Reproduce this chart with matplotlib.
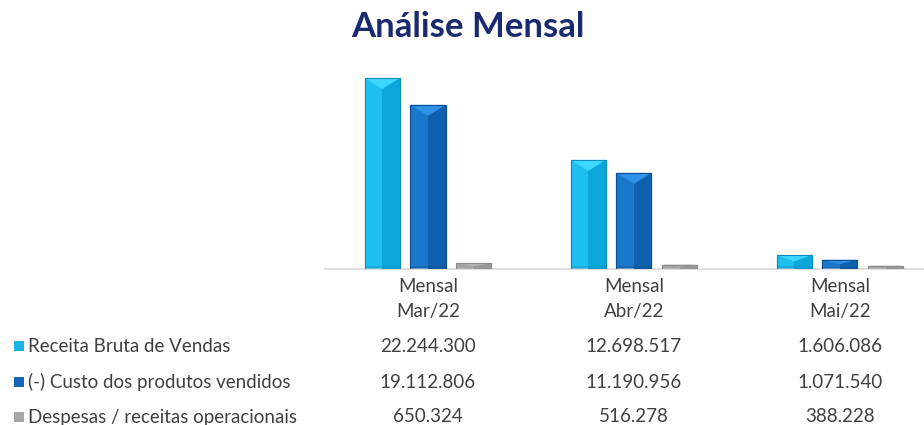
import matplotlib
matplotlib.use("Agg")
import matplotlib.pyplot as plt
from matplotlib.patches import Polygon
import numpy as np

categories = ["Mensal\nMar/22", "Mensal\nAbr/22", "Mensal\nMai/22"]
series_names = ["Receita Bruta de Vendas", "(-) Custo dos produtos vendidos",
                "Despesas / receitas operacionais"]
receita = [22244300, 12698517, 1606086]
custo = [19112806, 11190956, 1071540]
despesas = [650324, 516278, 388228]
value_labels = [["22.244.300", "12.698.517", "1.606.086"],
                ["19.112.806", "11.190.956", "1.071.540"],
                ["650.324", "516.278", "388.228"]]

series = [receita, custo, despesas]
# (main, right half, top bevel, edge)
styles = [("#1DC0F0", "#0DA6DA", "#3DD8FF", "#0B8DBE"),
          ("#1A78CC", "#0F60AE", "#2E92E8", "#0B4E92"),
          ("#A6A6A6", "#999999", "#B8B8B8", "#8C8C8C")]
swatch = ["#1AB4E6", "#1565B8", "#A6A6A6"]

font = ["Lato", "DejaVu Sans"]
plt.rcParams['font.family'] = font

fig = plt.figure(figsize=(9.24, 4.25), dpi=100)
W, H = 924, 425
ax_left, ax_right, ax_top, ax_bottom = 325, 924, 60, 269
ax = fig.add_axes([ax_left / W, 1 - ax_bottom / H, (ax_right - ax_left) / W,
                   (ax_bottom - ax_top) / H])

x = np.arange(len(categories))
bw = 0.17
offs = [-0.222, 0.0, 0.222]
ymax = 24.34e6
ax.set_xlim(-0.5, 2.408)
ax.set_ylim(0, ymax)

px_y = ymax / (ax_bottom - ax_top)      # data units per pixel in y

for s, vals in enumerate(series):
    main, right, top, edge = styles[s]
    for i, v in enumerate(vals):
        xc = x[i] + offs[s]
        ax.bar(xc, v, width=bw, color=main, edgecolor=edge, linewidth=0.8, zorder=2)
        ax.bar(xc + bw / 4, v, width=bw / 2, color=right, linewidth=0, zorder=3)
        d = min(11 * px_y, v * 0.45)
        tri = Polygon([(xc - bw / 2, v), (xc + bw / 2, v), (xc, v - d)],
                      closed=True, facecolor=top, edgecolor='none', zorder=4)
        ax.add_patch(tri)
        bot = min(3 * px_y, v * 0.2)
        ax.bar(xc, bot, width=bw, color=edge, alpha=0.35, linewidth=0, zorder=4)
        ax.bar(xc, v, width=bw, fill=False, edgecolor=edge, linewidth=0.8, zorder=5)

for sp in ["top", "right", "left"]:
    ax.spines[sp].set_visible(False)
ax.spines["bottom"].set_color("#D9D9D9")
ax.spines["bottom"].set_linewidth(1.2)
ax.set_xticks([])
ax.set_yticks([])

text_color = "#404040"
fs = 13.5
# category headers
for i, c in enumerate(categories):
    lines = c.split("\n")
    xp = ax.transData.transform((x[i], 0))[0] / W
    fig.text(xp, 1 - 286 / H, lines[0], ha="center", va="center", fontsize=fs, color=text_color)
    fig.text(xp, 1 - 312 / H, lines[1], ha="center", va="center", fontsize=fs, color=text_color)

row_y = [346, 382, 417]
for r, name in enumerate(series_names):
    yf = 1 - row_y[r] / H
    fig.patches.append(matplotlib.patches.Rectangle((14 / W, yf - 5 / H), 10 / W, 10 / H,
                                                    transform=fig.transFigure,
                                                    facecolor=swatch[r], edgecolor='none'))
    fig.text(28 / W, yf, name, ha="left", va="center", fontsize=fs, color=text_color)
    for i in range(len(categories)):
        xp = ax.transData.transform((x[i], 0))[0] / W
        fig.text(xp, yf, value_labels[r][i], ha="center", va="center", fontsize=fs,
                 color=text_color)

fig.text(468 / W, 1 - 27 / H, "Análise Mensal", ha="center", va="center",
         fontsize=25, fontweight="bold", color="#1A2A70")

fig.savefig("out.png", dpi=100, facecolor="white")
